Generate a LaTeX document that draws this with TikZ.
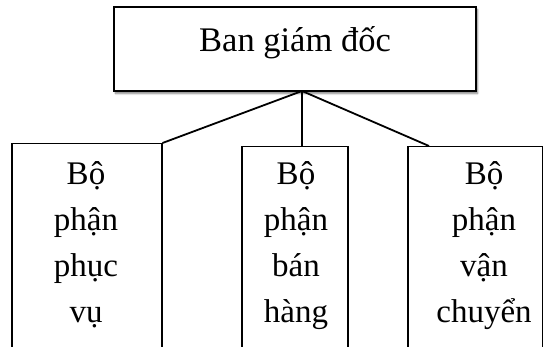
\documentclass[tikz,border=0pt]{standalone}
\usepackage{fontspec}
\setmainfont{Liberation Serif}
\usetikzlibrary{calc,shadows.blur}
\begin{document}
\begin{tikzpicture}[x=1pt,y=-1pt,
  unitbox/.style={draw, line width=1.5pt, inner sep=0pt, anchor=north west},
  headbox/.style={draw, line width=2.6pt, fill=white, inner sep=0pt,
    blur shadow={shadow xshift=1.5pt, shadow yshift=-2.5pt, shadow blur steps=6, shadow opacity=50}},
  caption/.style={font=\fontsize{33}{45.7}\selectfont, align=center, inner sep=0pt, anchor=base},
  link/.style={line width=1.8pt}]
\useasboundingbox (0,0) rectangle (543,347);
\clip (0,0) rectangle (543,347);

% management box
\node[headbox, minimum width=362pt, minimum height=84pt] (head) at (295,49) {};
\node[caption, font=\fontsize{34.5}{45.7}\selectfont] (headtext) at (295,52) {Ban giám đốc};

% department boxes (they run past the lower edge)
\node[unitbox, minimum width=150pt, minimum height=260pt] (b1) at (11,143) {};
\node[unitbox, minimum width=106pt, minimum height=260pt] (b2) at (241,146) {};
\node[unitbox, minimum width=135pt, minimum height=260pt] (b3) at (407,146) {};

% base anchor sits on the last of the four lines
\node[caption] (t1) at (86,322) {Bộ\\phận\\phục\\vụ};
\node[caption] (t2) at (296,322) {Bộ\\phận\\bán\\hàng};
\node[caption] (t3) at (484,322) {Bộ\\phận\\vận\\chuyển};

% connectors
\coordinate (hub) at (302,91);
\coordinate (b3in) at ($(b3.north west)+(22,0)$);
\draw[link] (hub) -- (b1.north east);
\draw[link] (hub) -- (hub |- b2.north);
\draw[link] (hub) -- (b3in);
\end{tikzpicture}
\end{document}
